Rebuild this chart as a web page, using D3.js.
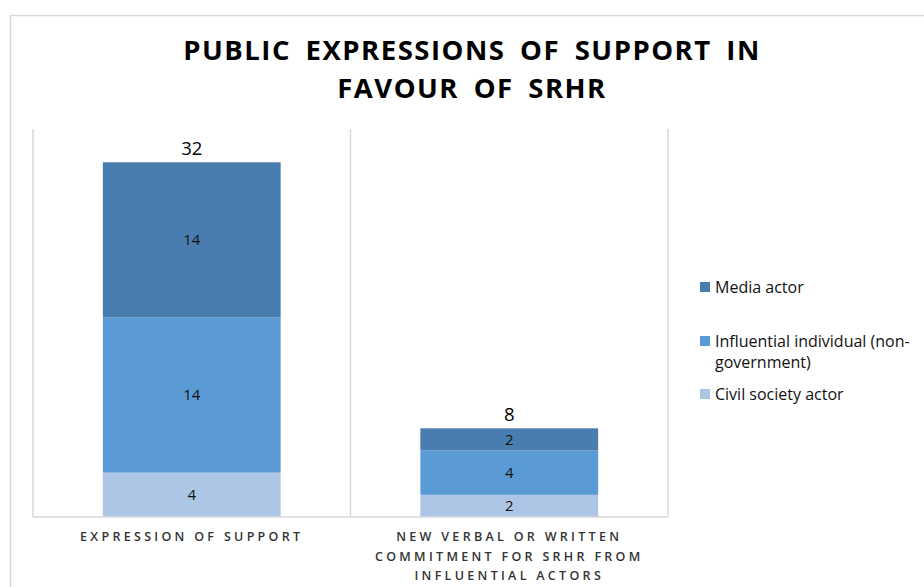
<!DOCTYPE html>
<html><head><meta charset="utf-8">
<script src="https://cdn.jsdelivr.net/npm/d3@7"></script>
<style>
body{margin:0;background:#fff;}
text{font-family:"Open Sans",Lato,sans-serif;}
</style></head>
<body><svg id="c" width="924" height="587"></svg>
<script>
const categories = [["EXPRESSION OF SUPPORT"], ["NEW VERBAL OR WRITTEN", "COMMITMENT FOR SRHR FROM", "INFLUENTIAL ACTORS"]];
const categoryKeys = ["Expression of support", "New verbal or written commitment"];
const seriesNames = ["Civil society actor", "Influential individual (non-government)", "Media actor"];
const civilSociety = [4, 2];
const influential = [14, 4];
const media = [14, 2];
const totals = [32, 8];
const colors = ["#adc6e6", "#5b9bd5", "#4a7daf"];

(function(){
const svg = d3.select("#c");
svg.append("rect").attr("x",10.5).attr("y",15.5).attr("width",930).attr("height",600)
  .attr("fill","none").attr("stroke","#d9d9d9").attr("stroke-width",1.5);

const title = svg.append("text").attr("text-anchor","middle").attr("font-weight","bold")
  .attr("font-size",27.5).attr("letter-spacing",1.5).attr("word-spacing",6).attr("fill","#000");
title.append("tspan").attr("x",472).attr("y",60).text("PUBLIC EXPRESSIONS OF SUPPORT IN");
title.append("tspan").attr("x",472).attr("y",98).text("FAVOUR OF SRHR");

const pL = 33, pR = 668, pT = 129, pB = 517;
const x = d3.scaleBand().domain(categoryKeys).range([pL, pR]).paddingInner(0).paddingOuter(0);
const y = d3.scaleLinear().domain([0, 35]).range([pB, pT]);
const barW = x.bandwidth() * 0.56;

const seps = [pL, ...categoryKeys.map(k => x(k) + x.bandwidth())];
svg.selectAll("line.sep").data(seps).enter().append("line")
  .attr("x1",d=>d).attr("x2",d=>d).attr("y1",pT).attr("y2",pB)
  .attr("stroke","#d9d9d9").attr("stroke-width",1.5);

const rows = categoryKeys.map((k,i)=>({key:k, "Civil society actor":civilSociety[i],
  "Influential individual (non-government)":influential[i], "Media actor":media[i]}));
const stack = d3.stack().keys(seriesNames)(rows);

stack.forEach((layer, li) => {
  const g = svg.append("g");
  g.selectAll("rect").data(layer).enter().append("rect")
    .attr("x", d => x(d.data.key) + (x.bandwidth()-barW)/2)
    .attr("width", barW)
    .attr("y", d => y(d[1]))
    .attr("height", d => y(d[0]) - y(d[1]))
    .attr("fill", colors[li]);
  g.selectAll("text").data(layer).enter().append("text")
    .attr("x", d => x(d.data.key) + x.bandwidth()/2)
    .attr("y", d => (y(d[0]) + y(d[1]))/2)
    .attr("dy","0.36em").attr("text-anchor","middle").attr("font-size",15).attr("fill","#111")
    .text(d => d[1]-d[0]);
});

svg.append("line").attr("x1",pL).attr("x2",pR).attr("y1",pB).attr("y2",pB)
  .attr("stroke","#d9d9d9").attr("stroke-width",1.5);

svg.selectAll("text.total").data(categoryKeys).enter().append("text")
  .attr("x", k => x(k) + x.bandwidth()/2)
  .attr("y", (k,i) => y(totals[i]) - 7)
  .attr("text-anchor","middle").attr("font-size",18.5).attr("fill","#000")
  .text((k,i)=>totals[i]);

categoryKeys.forEach((k,i) => {
  const t = svg.append("text").attr("text-anchor","middle").attr("font-size",12.5)
    .attr("font-weight",600).attr("letter-spacing",3.3).attr("fill","#333");
  categories[i].forEach((line,j) => {
    t.append("tspan").attr("x", x(k)+x.bandwidth()/2).attr("y", 541 + j*19.5).text(line);
  });
});

const legend = [
  {lines:["Media actor"], y:287, c:colors[2]},
  {lines:["Influential individual (non-","government)"], y:341, c:colors[1]},
  {lines:["Civil society actor"], y:394, c:colors[0]}
];
legend.forEach(l => {
  svg.append("rect").attr("x",700).attr("y",l.y-5).attr("width",10).attr("height",10).attr("fill",l.c);
  const t = svg.append("text").attr("font-size",16).attr("fill","#111");
  l.lines.forEach((line,j)=>{
    t.append("tspan").attr("x",715).attr("y",l.y+j*21).attr("dy","0.36em").text(line);
  });
});
})();
</script></body></html>
